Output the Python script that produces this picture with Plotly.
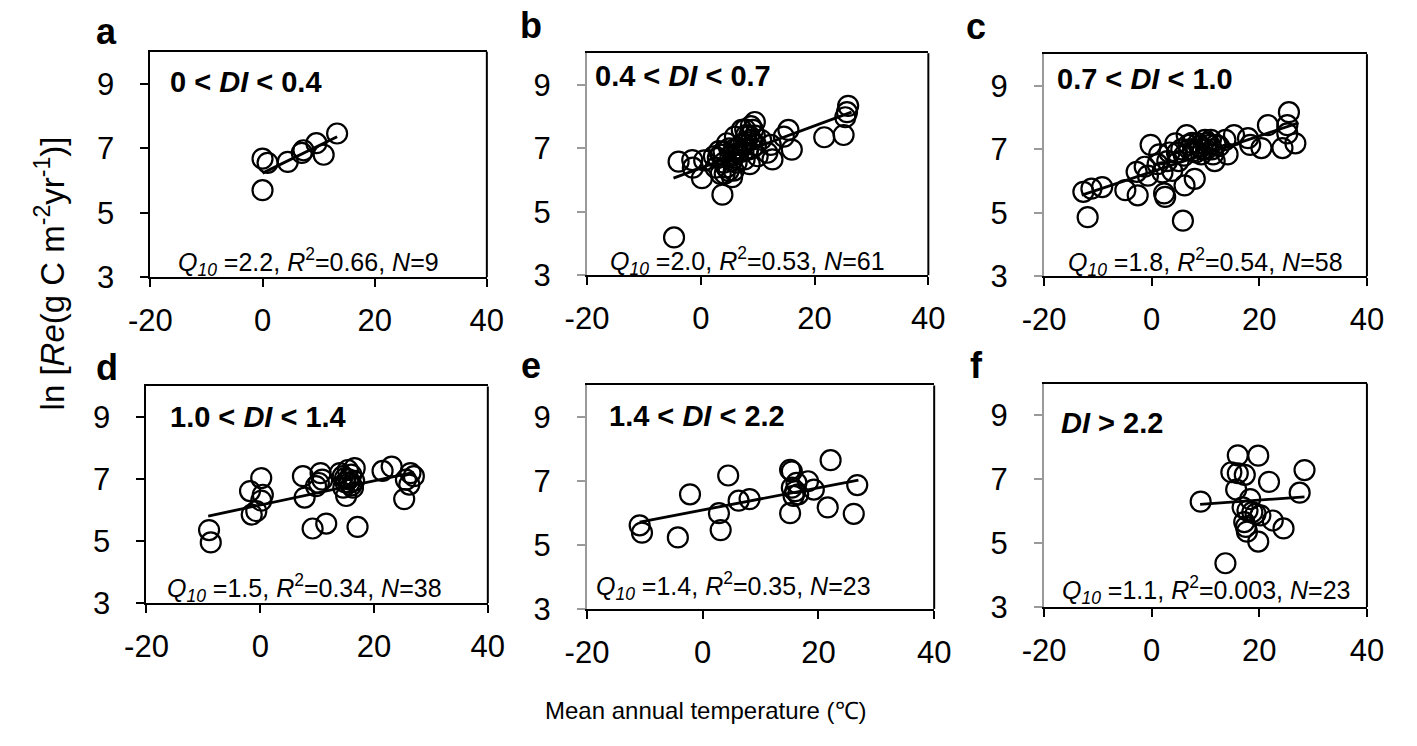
import plotly.graph_objects as go

W, H = 1417, 746

# ---------------- data ----------------
panel_letters = ["a", "b", "c", "d", "e", "f"]
panel_titles = ["0 &lt; <i>DI</i> &lt; 0.4", "0.4 &lt; <i>DI</i> &lt; 0.7", "0.7 &lt; <i>DI</i> &lt; 1.0",
                "1.0 &lt; <i>DI</i> &lt; 1.4", "1.4 &lt; <i>DI</i> &lt; 2.2", "<i>DI</i> &gt; 2.2"]
q10_values = ["2.2", "2.0", "1.8", "1.5", "1.4", "1.1"]
r2_values = ["0.66", "0.53", "0.54", "0.34", "0.35", "0.003"]
n_values = ["9", "61", "58", "38", "23", "23"]

x_ticks = [-20, 0, 20, 40]
y_ticks = [3, 5, 7, 9]

mat_a = [0.0, 0.0, 0.9, 4.5, 7.0, 7.3, 9.6, 10.9, 13.3]
re_a = [6.68, 5.70, 6.55, 6.58, 6.86, 6.94, 7.16, 6.80, 7.46]

mat_b = [-4.7, -3.9, -1.5, -1.4, 0.2, 0.6, 2.3, 2.6, 3.2, 3.5, 3.8, 4.05, 4.6, 4.9, 5.2, 5.5,
         5.8, 6.0, 6.3, 6.6, 7.2, 7.5, 7.7, 8.0, 8.3, 8.6, 8.9, 9.2, 9.5, 9.7, 10.0, 10.6,
         11.7, 12.3, 12.6, 14.6, 15.4, 16.0, 21.7, 25.1, 25.9, 25.7, 25.4,
         3.0, 3.5, 4.0, 4.5, 5.0, 5.5, 6.0, 6.5, 7.0, 7.5, 8.0, 8.5, 9.0, 9.5, 4.2, 5.8, 7.8, 8.8]
re_b = [4.19, 6.58, 6.63, 6.39, 6.06, 6.62, 6.75, 6.39, 6.91, 6.19, 5.54, 6.55, 7.16, 6.29, 6.75, 6.09,
        6.96, 7.37, 6.55, 6.86, 7.58, 7.16, 6.65, 7.42, 6.96, 6.50, 7.27, 7.58, 7.83, 7.11, 6.75, 7.27,
        6.86, 7.11, 6.65, 7.37, 7.58, 6.96, 7.35, 7.42, 8.34, 8.14, 7.98,
        6.70, 6.80, 6.90, 6.40, 7.00, 6.60, 6.80, 7.00, 7.10, 6.90, 7.20, 7.40, 7.00, 7.40, 6.20, 6.30, 7.60, 7.70]

mat_c = [-12.7, -11.2, -9.2, -11.9, -4.9, -2.6, -2.8, -1.3, -0.7, -0.2, 1.4, 1.1, 2.0, 2.3, 2.5,
         2.9, 3.8, 4.4, 4.7, 5.0, 5.8, 6.1, 6.5, 6.8, 8.0, 7.7, 8.6, 9.2, 9.9, 10.1, 10.8, 11.0,
         11.4, 11.7, 11.9, 13.7, 14.1, 15.3, 17.9, 18.3, 20.4, 21.6, 24.3, 25.2, 25.2, 25.5, 26.7,
         5.5, 6.0, 7.0, 7.5, 8.2, 8.8, 9.5, 10.4, 11.2, 12.5, 3.3]
re_c = [5.66, 5.76, 5.81, 4.86, 5.71, 5.55, 6.29, 6.45, 6.17, 7.14, 6.84, 6.53, 6.27, 5.61, 5.50,
        6.63, 6.32, 7.19, 6.89, 6.63, 4.75, 5.86, 7.45, 7.14, 6.07, 6.94, 7.19, 6.84, 7.30, 6.99, 7.14, 7.30,
        6.84, 6.63, 7.14, 7.30, 6.84, 7.45, 7.35, 7.14, 7.04, 7.76, 7.04, 7.76, 7.50, 8.17, 7.19,
        7.00, 6.80, 7.00, 7.20, 6.90, 7.10, 7.00, 7.20, 7.00, 7.10, 6.90]

mat_d = [-9.0, -8.7, -1.8, -1.5, -0.7, 0.17, 0.45, 0.17, 7.5, 7.8, 9.2, 9.8, 10.3, 10.6, 10.9,
         11.6, 14.0, 14.6, 14.9, 15.1, 15.4, 15.7, 16.0, 16.3, 16.6, 17.1, 21.5, 23.1, 25.3,
         25.6, 26.4, 27.0, 26.2, 15.0, 15.5, 16.0, 14.5, 16.5]
re_d = [5.36, 4.96, 6.62, 5.86, 5.97, 7.04, 6.50, 6.31, 7.10, 6.41, 5.41, 6.78, 6.88, 7.20, 6.99,
        5.57, 7.20, 6.73, 7.04, 6.46, 7.30, 6.88, 7.15, 6.73, 7.36, 5.46, 7.27, 7.41, 6.36,
        6.99, 7.20, 7.10, 6.83, 6.90, 7.00, 6.80, 7.10, 6.95]

mat_e = [-10.9, -10.5, -4.3, -2.2, 2.8, 3.1, 4.4, 6.2, 8.1, 15.1, 15.1, 15.4, 15.4, 15.7, 16.0,
         16.2, 16.5, 18.2, 19.2, 21.6, 22.1, 26.1, 26.7]
re_e = [5.62, 5.39, 5.24, 6.59, 6.00, 5.47, 7.18, 6.39, 6.44, 6.00, 7.36, 7.31, 6.80, 6.54, 6.69,
        6.95, 6.59, 7.00, 6.74, 6.18, 7.66, 5.98, 6.88]

mat_f = [9.1, 16.0, 19.8, 14.8, 16.0, 17.3, 21.8, 28.4, 15.7, 27.5, 18.3, 16.9, 17.8, 18.7, 19.3,
         20.2, 17.2, 17.5, 22.5, 24.5, 19.8, 13.7, 17.7]
re_f = [6.30, 7.75, 7.74, 7.22, 7.19, 7.14, 6.92, 7.29, 6.68, 6.58, 6.38, 6.12, 6.02, 5.97, 5.92,
        5.87, 5.66, 5.51, 5.71, 5.46, 5.05, 4.37, 5.36]

mat_all = [mat_a, mat_b, mat_c, mat_d, mat_e, mat_f]
re_all = [re_a, re_b, re_c, re_d, re_e, re_f]

# regression lines (ln Re = intercept + slope * MAT)
fit_intercept = [6.23, 6.38, 6.29, 6.17, 6.10, 6.11]
fit_slope = [0.085, 0.0665, 0.0566, 0.039, 0.0347, 0.0119]
fit_xmin = [0.0, -4.8, -13.0, -9.15, -10.9, 9.0]
fit_xmax = [13.3, 26.5, 27.3, 27.0, 26.9, 28.4]

# ---------------- layout (pixel boxes) ----------------
boxes = [  # left, right, top, bottom in pixels
    (132, 478, 53, 284),
    (581, 932, 54.5, 282),
    (1051, 1383, 55.5, 283),
    (128, 479, 396, 618),
    (581, 938, 395, 624),
    (1051, 1383, 393, 622),
]
yline_colors = ["#000000", "#9a9a9a", "#9a9a9a", "#000000", "#9a9a9a", "#9a9a9a"]
letter_pos = [(87, 32), (523, 26), (981, 27), (87, 377), (523, 375), (981, 375)]
title_pos = [(150, 84), (587, 78), (1062, 81), (150, 427), (602, 426), (1066, 433)]
stats_pos = [(295, 268), (746, 267), (1217, 268), (290, 603), (732, 600), (1217, 605)]

FONT = "Liberation Sans"

def px(x):
    return x / W

def py(y):
    return 1 - y / H

fig = go.Figure()
layout = dict(
    width=W, height=H, autosize=False,
    margin=dict(l=0, r=0, t=0, b=0),
    paper_bgcolor="white", plot_bgcolor="white",
    showlegend=False,
    font=dict(family=FONT, color="black", size=24),
)
annotations = []
shapes = []

for i in range(6):
    k = "" if i == 0 else str(i + 1)
    xa, ya = "x" + k, "y" + k
    l, r, t, b = boxes[i]
    fig.add_trace(go.Scatter(
        x=mat_all[i], y=re_all[i], mode="markers", xaxis=xa, yaxis=ya,
        marker=dict(symbol="circle-open", size=20, color="black", line=dict(width=2.2, color="black")),
        hoverinfo="skip"))
    fx = [fit_xmin[i], fit_xmax[i]]
    fy = [fit_intercept[i] + fit_slope[i] * v for v in fx]
    fig.add_trace(go.Scatter(x=fx, y=fy, mode="lines", xaxis=xa, yaxis=ya,
                             line=dict(color="black", width=2.8), hoverinfo="skip"))
    layout["xaxis" + k] = dict(
        domain=[px(l), px(r)], range=[-20, 40], anchor=ya,
        tickvals=x_ticks, ticktext=[str(v) for v in x_ticks],
        ticks="outside", ticklen=8, tickwidth=1.5, tickcolor="black",
        showline=True, linecolor="black", linewidth=2, mirror=True,
        showgrid=False, zeroline=False, fixedrange=True,
        tickfont=dict(family=FONT, size=31, color="black"),
        ticklabelstandoff=7,
    )
    layout["yaxis" + k] = dict(
        domain=[py(b), py(t)], range=[3, 10], anchor=xa,
        tickvals=y_ticks, ticktext=[str(v) for v in y_ticks],
        ticks="outside", ticklen=8, tickwidth=1.5, tickcolor=yline_colors[i],
        showline=True, linecolor=yline_colors[i], linewidth=2, mirror=False,
        showgrid=False, zeroline=False, fixedrange=True,
        tickfont=dict(family=FONT, size=31, color="black"),
        ticklabelstandoff=20,
    )
    # right border of the box
    shapes.append(dict(type="line", xref=xa + " domain", yref=ya + " domain",
                       x0=1, x1=1, y0=0, y1=1, line=dict(color="black", width=2)))
    lx, ly = letter_pos[i]
    annotations.append(dict(text="<b>%s</b>" % panel_letters[i], xref="paper", yref="paper",
                            x=px(lx), y=py(ly), xanchor="center", yanchor="middle", showarrow=False,
                            font=dict(family=FONT, size=36, color="black")))
    tx, ty = title_pos[i]
    annotations.append(dict(text="<b>%s</b>" % panel_titles[i], xref="paper", yref="paper",
                            x=px(tx), y=py(ty), xanchor="left", yanchor="middle", showarrow=False,
                            font=dict(family=FONT, size=29, color="black")))
    sx, sy = stats_pos[i]
    stats = ("<i>Q</i><sub><i>10</i></sub> =%s, <i>R</i><sup>2</sup>=%s, <i>N</i>=%s"
             % (q10_values[i], r2_values[i], n_values[i]))
    annotations.append(dict(text=stats, xref="paper", yref="paper",
                            x=px(sx), y=py(sy), xanchor="center", yanchor="middle", showarrow=False,
                            font=dict(family=FONT, size=25, color="black")))

annotations.append(dict(text="Mean annual temperature (\u2103)", xref="paper", yref="paper",
                        x=px(703), y=py(728), xanchor="center", yanchor="middle", showarrow=False,
                        font=dict(family=FONT, size=24, color="black")))
annotations.append(dict(text="ln [<i>Re</i>(g C m<sup>-2</sup>yr<sup>-1</sup>)]", xref="paper", yref="paper",
                        x=px(29), y=py(280), xanchor="center", yanchor="middle", showarrow=False,
                        textangle=-90, font=dict(family=FONT, size=33, color="black")))

layout["annotations"] = annotations
layout["shapes"] = shapes
fig.update_layout(**layout)
fig.write_html("out.html")
